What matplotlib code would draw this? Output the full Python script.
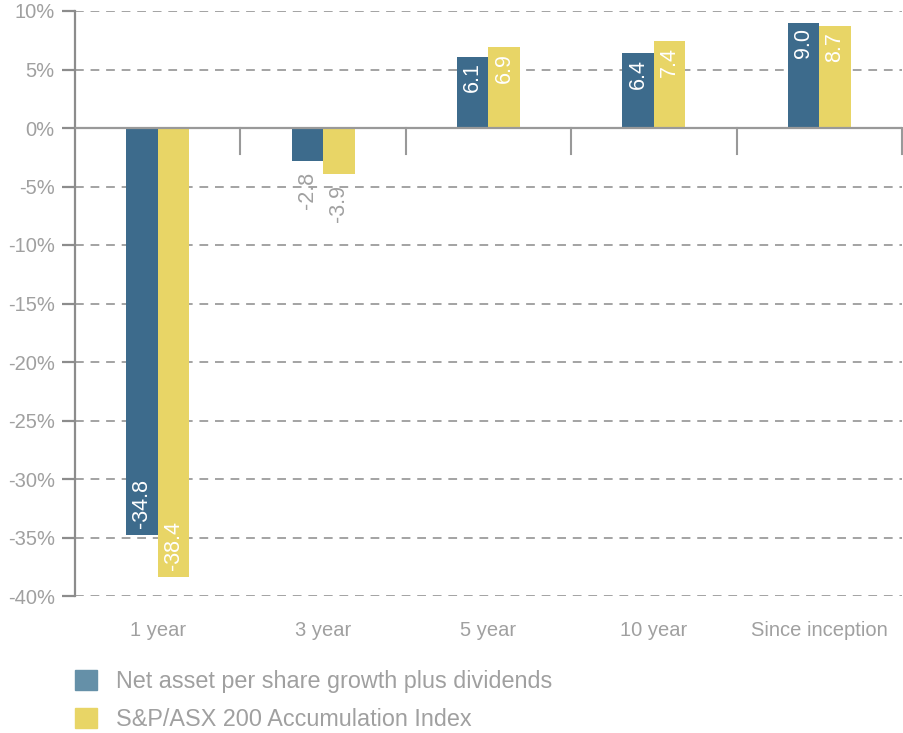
import numpy as np
import matplotlib.pyplot as plt
from matplotlib.patches import Patch

categories = ['1 year', '3 year', '5 year', '10 year', 'Since inception']
nav_growth = [-34.8, -2.8, 6.1, 6.4, 9.0]
asx200 = [-38.4, -3.9, 6.9, 7.4, 8.7]
series_names = ['Net asset per share growth plus dividends',
                'S&P/ASX 200 Accumulation Index']
yticks = np.arange(-40, 11, 5)

blue = '#3d6b8c'
yellow = '#e8d566'
grey = '#a0a0a0'

plt.rcParams['font.family'] = ['Liberation Sans', 'DejaVu Sans']

fig = plt.figure(figsize=(9.04, 7.33), dpi=100)
ax = fig.add_axes([75 / 904, 1 - 596 / 733, 827 / 904, 585 / 733])

x = np.arange(len(categories))
w = 0.19
for vals, off, col in [(nav_growth, -w / 2, blue), (asx200, w / 2, yellow)]:
    ax.bar(x + off, vals, width=w, color=col, zorder=3)
    for xi, v in zip(x + off, vals):
        if abs(v) < 5:
            ax.annotate('%.1f' % v, (xi, v), xytext=(0, -8), textcoords='offset points',
                        rotation=90, ha='center', va='top', color=grey, fontsize=15.5)
        elif v > 0:
            ax.annotate('%.1f' % v, (xi, v), xytext=(0, -4), textcoords='offset points',
                        rotation=90, ha='center', va='top', color='white', fontsize=15.5)
        else:
            ax.annotate('%.1f' % v, (xi, v), xytext=(0, 5), textcoords='offset points',
                        rotation=90, ha='center', va='bottom', color='white', fontsize=15.5)

ax.set_xlim(-0.5, len(categories) - 0.5)
ax.set_ylim(-40, 10)
ax.set_yticks(yticks)
ax.set_yticklabels(['%d%%' % t for t in yticks])
ax.set_xticks(x)
ax.set_xticklabels(categories)

for t in yticks:
    if t != 0:
        ax.axhline(t, color='#a3a3a3', lw=1.4, ls=(0, (4.5, 3.5)), zorder=1)
ax.axhline(0, color='#999999', lw=1.6, zorder=4)
for b in x[:-1] + 0.5:
    ax.plot([b, b], [0, -2.2], color='#999999', lw=1.5, zorder=4)
ax.plot([x[-1] + 0.5] * 2, [0, -2.2], color='#999999', lw=1.5, zorder=4, clip_on=False)

for s in ['top', 'right', 'bottom']:
    ax.spines[s].set_visible(False)
ax.spines['left'].set_color('#8c8c8c')
ax.spines['left'].set_linewidth(1.6)
ax.tick_params(axis='y', length=9.5, width=1.6, color='#8c8c8c', pad=5,
               labelsize=14.5, labelcolor=grey)
ax.tick_params(axis='x', length=0, pad=18, labelsize=14.5, labelcolor=grey)

handles = [Patch(color='#6590a8'), Patch(color=yellow)]
leg = fig.legend(handles, series_names, loc='upper left',
                 bbox_to_anchor=(75 / 904, 1 - 670 / 733), frameon=False,
                 borderaxespad=0, borderpad=0,
                 handlelength=0.95, handleheight=0.95, handletextpad=0.82,
                 labelspacing=0.62, prop={'size': 16.8})
for t in leg.get_texts():
    t.set_color(grey)

fig.savefig('out.png', dpi=100)
